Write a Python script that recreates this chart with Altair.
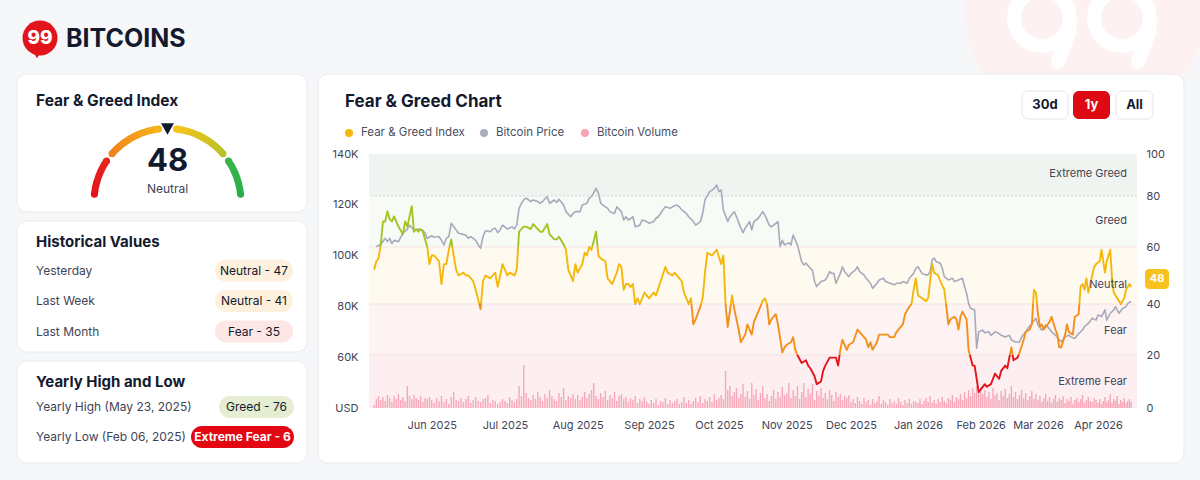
import altair as alt
import numpy as np
import pandas as pd

# ------------------------------------------------------------------ data
START = pd.Timestamp("2025-05-06")
END = pd.Timestamp("2026-04-21")

# Fear & Greed index: (days after START, value)
fear_greed = [
 (0,52),(1,55),(2,56),(3,61),(4,70),(5,70),(6,74),(7,71),(8,70),(9,72),(10,70),(11,68),(13,65),(14,70),(15,68),(16,72),(17,76),(18,66),(19,67),(20,66),(21,67),(22,66),(24,60),(25,54),(26,57),(27,57),(29,55),(30,47),(31,54),(32,54),(33,59),(34,63),(35,57),(36,52),(37,50),(39,51),(40,50),(41,50),(43,48),(44,45),(46,38),(47,48),(48,50),(50,49),(51,50),(52,51),(53,46),(55,54),(57,50),(58,51),(60,50),(61,52),(62,66),(64,68),(65,68),(67,67),(68,69),(70,67),(71,66),(72,66),(74,69),(75,65),(77,63),(78,63),(79,64),(81,61),(82,59),(83,52),(85,48),(86,54),(87,51),(89,54),(90,58),(91,57),(92,60),(93,59),(95,66),(96,57),(97,56),(99,55),(100,49),(102,47),(103,49),(104,51),(105,54),(106,53),(107,45),(108,47),(109,47),(110,46),(111,47),(112,40),(113,42),(114,40),(116,44),(117,43),(118,42),(120,44),(121,43),(123,48),(125,53),(126,51),(128,50),(129,51),(131,49),(132,48),(133,44),(135,40),(136,42),(137,32),(138,34),(140,39),(141,42),(142,51),(143,58),(145,57),(146,58),(147,59),(149,54),(150,57),(151,40),(152,31),(154,43),(155,38),(157,30),(158,25),(160,28),(161,32),(163,28),(164,33),(166,37),(168,41),(169,42),(170,40),(171,32),(172,34),(174,36),(175,32),(177,21),(178,23),(179,24),(181,25),(182,27),(183,22),(184,20),(186,17),(188,18),(189,16),(190,15),(192,12),(193,9),(195,10),(196,14),(197,16),(199,19),(201,19),(202,19),(203,16),(204,22),(205,26),(207,22),(208,24),(210,25),(212,30),(213,29),(214,28),(216,26),(217,23),(218,25),(219,22),(221,25),(222,28),(224,28),(226,28),(227,27),(229,27),(230,29),(232,31),(233,32),(234,36),(236,39),(237,40),(238,45),(239,49),(240,43),(242,42),(244,41),(245,42),(247,54),(248,51),(250,50),(251,48),(253,45),(254,39),(255,32),(256,34),(258,35),(259,34),(260,30),(261,35),(262,37),(264,34),(265,22),(266,19),(267,16),(268,16),(269,11),(270,6),(272,8),(273,9),(274,8),(276,9),(277,11),(278,13),(280,11),(281,14),(283,16),(284,15),(285,19),(286,23),(287,18),(289,19),(290,21),(292,26),(293,29),(295,30),(296,32),(297,45),(298,44),(299,36),(300,31),(301,32),(302,30),(304,32),(305,33),(306,35),(308,30),(309,28),(310,23),(311,23),(313,28),(314,32),(315,29),(317,28),(318,35),(320,36),(321,46),(322,47),(323,45),(324,49),(325,44),(327,50),(328,53),(329,54),(331,55),(332,59),(333,55),(334,51),(335,55),(336,57),(337,59),(338,49),(339,44),(341,42),(343,40),(345,42),(346,45),(348,47),(349,46),
]

# Bitcoin price in thousands USD: (days after START, price)
btc_price_k = [
 (1,103.5),(3,104.5),(5,106.8),(6,105.5),(7,106.8),(8,104.8),(9,106),(11,105.5),(12,107.2),(13,108.8),(15,110.4),(16,112),(18,110),(19,110),(20,110.5),(22,110),(23,108.8),(24,106.8),(26,107.8),(27,107.2),(29,107.5),(30,106),(31,104.2),(32,106.8),(33,107.5),(34,112.7),(35,111.4),(37,108.8),(38,108.6),(40,108),(41,106.8),(42,107.5),(44,106),(45,104.2),(46,102.9),(47,107.5),(48,109.8),(50,109.4),(51,110.5),(52,110.8),(53,109),(54,110.1),(55,112),(57,110.5),(59,111.3),(60,110.5),(61,112),(62,118.6),(63,120.6),(64,121.9),(65,122.6),(67,121.3),(68,121.9),(70,121.3),(71,120.6),(72,121.3),(74,123.2),(75,120.6),(77,121.9),(78,120.9),(79,122.2),(81,119.9),(82,117.3),(84,115.3),(85,116.6),(86,117.3),(88,117.3),(89,119.9),(91,120.6),(92,122.6),(93,123.2),(95,126.5),(96,124.6),(97,120.6),(98,119.9),(100,118.6),(101,117.3),(103,116.6),(104,119.2),(106,117.3),(107,114),(108,115.3),(109,114),(110,114.6),(111,115.3),(112,111.4),(114,112),(115,114),(117,113.4),(118,112.7),(120,113.4),(121,114.7),(122,115.3),(124,118),(125,119.2),(127,118.6),(128,119.2),(130,119.9),(131,119.2),(132,118),(134,116.6),(135,115.3),(137,113.4),(138,112),(140,113.4),(141,116.6),(142,121.9),(144,125.2),(145,125.8),(146,126.5),(147,127.8),(148,125.2),(149,125.8),(150,118),(152,113.4),(153,115.3),(155,117.3),(156,115.3),(158,110.8),(159,109),(160,110.8),(162,113.4),(163,110.1),(164,113.4),(166,114.7),(168,117.3),(169,116),(171,112),(172,111.3),(174,112.7),(175,113.4),(176,103.5),(177,106),(178,104.2),(180,105),(181,104.2),(182,108.1),(184,104.2),(186,97.6),(187,96.3),(188,97),(190,95),(191,94.3),(192,89.8),(193,87.8),(195,89.8),(197,90.4),(198,91.7),(199,93.7),(200,93),(201,93),(202,89.1),(204,93),(205,95.6),(206,93.7),(208,91.7),(209,93),(211,94.3),(212,95.6),(213,93.7),(215,92.4),(216,91.1),(218,89.1),(219,87.1),(221,89.1),(222,90.4),(224,91.1),(225,89.8),(227,89.1),(229,88.5),(230,89.1),(232,89.1),(233,89.8),(235,89.1),(236,91.1),(238,93),(239,95),(240,95.6),(242,93),(244,92.4),(245,92.4),(246,93.7),(247,98.3),(248,99),(249,97.6),(251,97),(252,95),(253,91.7),(255,90.4),(257,91.1),(258,89.8),(260,90.4),(262,91.1),(263,87.8),(264,85.2),(265,81.2),(266,79.2),(268,78.6),(269,63.5),(270,70),(272,70.6),(273,69.6),(275,70),(276,68.6),(278,70),(280,69.3),(281,68.6),(283,68),(285,68.6),(286,66.8),(288,66),(290,66),(291,68),(293,70),(294,71.3),(296,73.3),(298,75.3),(299,72.7),(301,70.6),(303,72.7),(304,72),(306,70),(308,68.7),(310,66.8),(311,66.1),(313,68),(315,68.7),(316,68),(318,67.4),(320,69.3),(322,70.7),(323,72),(325,73.3),(327,75.3),(329,74.6),(330,76.6),(332,76),(334,78.6),(335,74.6),(337,77.3),(339,78.6),(340,79.9),(342,77.3),(344,79.2),(346,79.9),(347,81.2),(349,81.9),
]

# Daily Bitcoin volume (billions USD), one value per day from START
vol_may = [3, 9, 12, 8, 11, 7, 13, 10, 6, 12, 9, 14, 8, 11, 7, 22, 12, 9, 13, 10, 8, 12, 6, 10, 9, 11]
vol_jun = [8, 5, 10, 7, 12, 6, 9, 4, 11, 16, 8, 7, 10, 6, 9, 12, 5, 8, 11, 7, 6, 9, 10, 13, 5, 8, 7, 4, 6, 9]
vol_jul = [7, 5, 11, 8, 6, 9, 22, 12, 43, 15, 10, 8, 13, 9, 16, 11, 7, 14, 10, 18, 12, 9, 7, 15, 11, 20, 8, 12, 10, 14, 9]
vol_aug = [13, 8, 11, 16, 10, 14, 18, 25, 12, 9, 15, 11, 17, 8, 13, 10, 16, 7, 12, 14, 9, 11, 6, 10, 8, 12, 5, 9, 7, 11, 6]
vol_sep = [4, 8, 5, 9, 3, 7, 6, 10, 4, 8, 5, 7, 9, 4, 6, 11, 5, 8, 4, 7, 10, 6, 12, 5, 9, 7, 11, 6, 14, 8]
vol_oct = [10, 13, 9, 37, 18, 22, 12, 16, 20, 10, 14, 24, 11, 17, 9, 25, 13, 19, 8, 15, 22, 10, 14, 7, 12, 18, 9, 16, 11, 21, 13]
vol_nov = [15, 25, 10, 18, 12, 22, 9, 16, 25, 11, 19, 14, 24, 8, 17, 12, 20, 10, 15, 9, 18, 13, 7, 16, 11, 14, 8, 12, 10, 13]
vol_dec = [6, 9, 5, 11, 7, 4, 10, 6, 8, 3, 9, 5, 7, 12, 4, 8, 6, 3, 9, 5, 7, 4, 10, 6, 3, 8, 5, 9, 4, 7, 6]
vol_jan = [5, 9, 4, 7, 10, 6, 12, 5, 8, 4, 9, 6, 11, 7, 5, 10, 8, 13, 6, 11, 9, 14, 8, 16, 10, 18, 12, 20, 15, 22, 17]
vol_feb = [21, 14, 18, 11, 16, 9, 20, 13, 15, 8, 17, 12, 19, 10, 14, 22, 11, 16, 9, 13, 18, 10, 15, 8, 12, 17, 9, 14]
vol_mar = [8, 12, 6, 10, 14, 7, 11, 5, 9, 13, 6, 10, 8, 12, 5, 9, 7, 11, 4, 8, 10, 6, 9, 13, 5, 8, 11, 7, 6, 10, 8]
vol_apr = [5, 9, 4, 7, 11, 6, 8, 14, 5, 9, 7, 12, 4, 8, 6, 10, 5, 7, 9, 6]

month_starts = ["2025-06-01", "2025-07-01", "2025-08-01", "2025-09-01", "2025-10-01", "2025-11-01",
                "2025-12-01", "2026-01-01", "2026-02-01", "2026-03-01", "2026-04-01"]

zones = ["Extreme Fear", "Fear", "Neutral", "Greed", "Extreme Greed"]
zone_lo = [0, 20, 40, 60, 80]
zone_hi = [20, 40, 60, 80, 100]

current_value = 48
current_label = "Neutral"
hist_names = ["Yesterday", "Last Week", "Last Month"]
hist_pills = ["Neutral - 47", "Neutral - 41", "Fear - 35"]
yearly_names = ["Yearly High (May 23, 2025)", "Yearly Low (Feb 06, 2025)"]
yearly_pills = ["Greed - 76", "Extreme Fear - 6"]
legend_names = ["Fear & Greed Index", "Bitcoin Price", "Bitcoin Volume"]
range_buttons = ["30d", "1y", "All"]

# ---------------------------------------------------------------- tables
fg_df = pd.DataFrame(fear_greed, columns=["day", "fg"])
px_df = pd.DataFrame(btc_price_k, columns=["day", "price"])
volume = vol_may + vol_jun + vol_jul + vol_aug + vol_sep + vol_oct + vol_nov + vol_dec + vol_jan + vol_feb + vol_mar + vol_apr
vol_df = pd.DataFrame({"day": np.arange(len(volume)), "vol": volume})
band_df = pd.DataFrame({"zone": zones, "lo": zone_lo, "hi": zone_hi})

month_ts = [pd.Timestamp(m) for m in month_starts]
month_day = [int((m - START).days) for m in month_ts]
month_lbl = [m.strftime("%b %Y") for m in month_ts]
end_day = int((END - START).days)

# ---------------------------------------------------------------- layout
CW, CH = 1200, 480
L, T, PW, PH = 369, 154, 768, 254


def X(a):
    return a - L


def Y(a):
    return a - T


ONE = pd.DataFrame({"k": [0]})
FONT = "Inter"
DARK = "#141a2e"
MUTED = "#3f4455"
CARD_STROKE = "#e9ebef"
GREEN, YELLOW, ORANGE, RED = "#a3c423", "#f5b70a", "#f3901a", "#e3141c"


def box(x1, y1, x2, y2, fill, r=0, stroke=None, sw=1.0):
    kw = dict(fill=fill, cornerRadius=r)
    if stroke:
        kw.update(stroke=stroke, strokeWidth=sw)
    else:
        kw.update(strokeWidth=0)
    return alt.Chart(ONE).mark_rect(**kw).encode(
        x=alt.value(X(x1)), x2=alt.value(X(x2)), y=alt.value(Y(y1)), y2=alt.value(Y(y2)))


def label(x, y, s, size=12, color=DARK, weight=400, align="left"):
    return alt.Chart(ONE).mark_text(
        text=s, font=FONT, fontSize=size, color=color, fontWeight=weight,
        align=align, baseline="middle").encode(x=alt.value(X(x)), y=alt.value(Y(y)))


def dot(x, y, d, color, shape="circle", angle=0):
    return alt.Chart(ONE).mark_point(
        shape=shape, filled=True, size=float(d * d), color=color, opacity=1,
        strokeWidth=0, angle=angle).encode(x=alt.value(X(x)), y=alt.value(Y(y)))


def ring(x, y, r_out, r_in, color, a0=0.0, a1=360.0):
    return alt.Chart(ONE).mark_arc(
        theta=float(np.radians(a0)), theta2=float(np.radians(a1)),
        radius=r_out, radius2=r_in, color=color, strokeWidth=0
    ).encode(x=alt.value(X(x)), y=alt.value(Y(y)))


def hex2rgb(h):
    return [int(h[i:i + 2], 16) for i in (1, 3, 5)]


def mix(c0, c1, t):
    a, b = hex2rgb(c0), hex2rgb(c1)
    return "#" + "".join(f"{int(round(a[i] + (b[i] - a[i]) * t)):02x}" for i in range(3))


layers = []

# watermark top-right (faint logo)
layers.append(dot(1085, 10, 240, "#fdf1f1"))
layers.append(ring(1042, 18, 35, 21, "#ffffff"))
layers.append(ring(1122, 18, 35, 21, "#ffffff"))
layers.append(alt.Chart(ONE).mark_rule(color="#ffffff", strokeWidth=14, strokeCap="round").encode(
    x=alt.value(X(1070)), x2=alt.value(X(1058)), y=alt.value(Y(30)), y2=alt.value(Y(62))))
layers.append(alt.Chart(ONE).mark_rule(color="#ffffff", strokeWidth=14, strokeCap="round").encode(
    x=alt.value(X(1150)), x2=alt.value(X(1138)), y=alt.value(Y(30)), y2=alt.value(Y(62))))

# logo
layers.append(dot(40, 38, 35, "#e1131b"))
layers.append(dot(37, 54, 10, "#e1131b", shape="triangle-down"))
layers.append(label(40, 38, "99", size=19, color="#ffffff", weight=800, align="center"))
layers.append(label(66, 39, "BITCOINS", size=25, color=DARK, weight=700))

# cards
layers.append(box(17, 74, 307, 212, "#ffffff", r=10, stroke=CARD_STROKE))
layers.append(box(17, 221, 307, 352, "#ffffff", r=10, stroke=CARD_STROKE))
layers.append(box(17, 361, 307, 463, "#ffffff", r=10, stroke=CARD_STROKE))
layers.append(box(318, 74, 1184, 463, "#ffffff", r=10, stroke=CARD_STROKE))

# gauge card
layers.append(label(36, 101, "Fear & Greed Index", size=15.5, weight=700))
GCX, GCY, R_OUT, R_IN = 167.5, 202.0, 77.0, 70.0
RM = (R_OUT + R_IN) / 2


def gauge_segment(a0, a1, c0, c1, n):
    out = []
    for i in range(n):
        s0 = a0 + (a1 - a0) * i / n
        s1 = a0 + (a1 - a0) * (i + 1) / n
        if i < n - 1:
            s1 += 0.6
        th0 = float(np.radians(s0 % 360))
        th1 = th0 + float(np.radians(s1 - s0))
        col = mix(c0, c1, (i + 0.5) / n)
        out.append(alt.Chart(ONE).mark_arc(
            theta=th0, theta2=th1, radius=R_OUT, radius2=R_IN, color=col, strokeWidth=0
        ).encode(x=alt.value(X(GCX)), y=alt.value(Y(GCY))))
    for a, c in ((a0, c0), (a1, c1)):
        cx = GCX + RM * np.sin(np.radians(a))
        cy = GCY - RM * np.cos(np.radians(a))
        out.append(dot(float(cx), float(cy), R_OUT - R_IN, c))
    return out


layers += gauge_segment(-84, -56, "#e3141c", "#e5261c", 3)
layers += gauge_segment(-49, -7, "#ef841c", "#f6b21a", 10)
layers += gauge_segment(7, 49, "#f6c31a", "#b9c22a", 10)
layers += gauge_segment(56, 84, "#3bb34a", "#2aae4b", 3)
layers.append(dot(GCX, 129, 13, DARK, shape="triangle-down"))
layers.append(label(GCX, 162, str(current_value), size=31, weight=700, align="center"))
layers.append(label(GCX, 189, current_label, size=12, color=MUTED, align="center"))

# historical values card
layers.append(label(36, 242, "Historical Values", size=15, weight=700))
pill_fill = ["#fdf0dc", "#fdf0dc", "#fde6e6"]
for i, (nm, pv) in enumerate(zip(hist_names, hist_pills)):
    yy = 270.5 + i * 30.5
    layers.append(label(36, yy, nm, size=12, color=MUTED))
    layers.append(box(215, yy - 11, 293, yy + 11, pill_fill[i], r=11))
    layers.append(label(254, yy, pv, size=12, color=DARK, align="center"))

# yearly high / low card
layers.append(label(36, 382, "Yearly High and Low", size=15, weight=700))
layers.append(label(36, 407, yearly_names[0], size=12, color=MUTED))
layers.append(box(219, 396, 294, 418, "#e5eed2", r=11))
layers.append(label(256.5, 407, yearly_pills[0], size=12, color=DARK, align="center"))
layers.append(label(36, 437, yearly_names[1], size=12, color=MUTED))
layers.append(box(191, 426, 294, 448, "#e30613", r=11))
layers.append(label(242.5, 437, yearly_pills[1], size=12, color="#ffffff", weight=700, align="center"))

# main chart card header
layers.append(label(345, 102, "Fear & Greed Chart", size=17, weight=700))
btn_x = [(1022, 1068), (1073, 1110), (1116, 1153)]
for (bx0, bx1), nm in zip(btn_x, range_buttons):
    active = nm == "1y"
    layers.append(box(bx0, 91, bx1, 119, "#de0a13" if active else "#ffffff", r=6,
                      stroke=None if active else "#e3e5ea"))
    layers.append(label((bx0 + bx1) / 2, 105, nm, size=13, weight=700,
                        color="#ffffff" if active else DARK, align="center"))

leg_x = [349, 484, 585]
leg_c = [YELLOW, "#a8acbd", "#f5a3b5"]
for lx, lc, ln in zip(leg_x, leg_c, legend_names):
    layers.append(dot(lx, 133, 8, lc))
    layers.append(label(lx + 12, 133, ln, size=11.5, color="#4a4f5f"))

# ---------------------------------------------------------------- scales / axes
FG_DOM = [0, 20, 40, 60, 80, 100]
FG_RNG = [254, 201, 150, 93, 42, 0]
fg_scale = alt.Scale(domain=FG_DOM, range=FG_RNG, zero=False, nice=False)

# month label positions measured on the reference's time axis (it is not evenly spaced)
x_dom = [0] + month_day + [end_day]
x_rng = [0, 62.7, 136, 208.7, 280, 350, 417.7, 482, 549, 611.7, 669, 729, 768]
x_scale = alt.Scale(domain=x_dom, range=x_rng, zero=False, nice=False)

lbl_expr = ("[" + ",".join(f"'{s}'" for s in month_lbl) + "][indexof(["
            + ",".join(str(d) for d in month_day) + "], datum.value)]")
x_axis = alt.Axis(values=month_day, labelExpr=lbl_expr, title=None,
                  grid=False, domain=False, ticks=False, tickSize=0, labelPadding=11,
                  labelFontSize=11, labelColor=MUTED, labelFont=FONT, zindex=1)
x_enc = alt.X("day:Q", scale=x_scale, axis=x_axis)

price_axis = alt.Axis(orient="left", values=[40, 60, 80, 100, 120, 140],
                      labelExpr="datum.value == 40 ? 'USD' : datum.value + 'K'",
                      title=None, grid=False, domain=False, ticks=False, tickSize=0,
                      labelPadding=11, labelFontSize=11, labelColor=MUTED, labelFont=FONT, zindex=1)
fg_axis = alt.Axis(orient="right", values=FG_DOM, title=None, grid=False, domain=False,
                   ticks=False, tickSize=0, labelPadding=9, labelFontSize=11,
                   labelColor=MUTED, labelFont=FONT, zindex=1)

# bands
band_colors = ["#fdeef1", "#fdf3f3", "#fffaf0", "#f7faf5", "#eff4f0"]
layers.append(alt.Chart(band_df).mark_rect(strokeWidth=0).encode(
    x=alt.value(0), x2=alt.value(PW),
    y=alt.Y("lo:Q", scale=fg_scale, axis=None), y2="hi:Q",
    color=alt.Color("zone:N", scale=alt.Scale(domain=zones, range=band_colors), legend=None)))
layers.append(alt.Chart(pd.DataFrame({"b": [20, 40, 60]})).mark_rule(
    color="#f6e3e3", strokeWidth=1).encode(y=alt.Y("b:Q", scale=fg_scale, axis=None)))
layers.append(alt.Chart(pd.DataFrame({"b": [80]})).mark_rule(
    color="#d3d7de", strokeWidth=1, strokeDash=[2, 2]).encode(y=alt.Y("b:Q", scale=fg_scale, axis=None)))

# volume bars
layers.append(alt.Chart(vol_df).mark_bar(width=1.4, color="#f5a0b3", opacity=0.9).encode(
    x=x_enc, y=alt.Y("vol:Q", scale=alt.Scale(domain=[0, PH], nice=False, zero=True), axis=None)))

# price line
layers.append(alt.Chart(px_df).mark_line(color="#a6aabb", strokeWidth=1.6, strokeJoin="round").encode(
    x=x_enc, y=alt.Y("price:Q", scale=alt.Scale(domain=[40, 140], nice=False, zero=False), axis=price_axis)))


# fear & greed line with zone gradient
def ypix(v):
    return float(np.interp(v, FG_DOM, FG_RNG))


top_px, bot_px = ypix(fg_df["fg"].max()), ypix(fg_df["fg"].min())


def off(v):
    return float(min(1.0, max(0.0, (ypix(v) - top_px) / (bot_px - top_px))))


stops = [(0.0, GREEN), (off(60), GREEN), (off(60), YELLOW), (off(40), YELLOW),
         (off(40), ORANGE), (off(20), ORANGE), (off(20), RED), (1.0, RED)]
grad = alt.LinearGradient(gradient="linear", x1=0, x2=0, y1=0, y2=1,
                          stops=[alt.GradientStop(offset=o, color=c) for o, c in stops])
layers.append(alt.Chart(fg_df).mark_line(stroke=grad, strokeWidth=1.9, strokeJoin="round").encode(
    x=x_enc, y=alt.Y("fg:Q", scale=fg_scale, axis=fg_axis)))

# band labels
for yy, nm in zip([174, 221, 285, 331, 382], ["Extreme Greed", "Greed", "Neutral", "Fear", "Extreme Fear"]):
    layers.append(label(1127, yy, nm, size=11, color=MUTED, align="right"))

# current value badge
layers.append(box(1145, 269, 1169, 289, "#f7c21b", r=4))
layers.append(label(1157, 279, str(current_value), size=11, color="#ffffff", weight=700, align="center"))

chart = alt.layer(*layers).resolve_scale(y="independent").properties(
    width=PW, height=PH,
    padding={"left": L, "top": T, "right": CW - L - PW, "bottom": CH - T - PH},
    autosize=alt.AutoSizeParams(type="none"),
    background="#f6f7f9",
).configure_view(stroke=None)

chart.save("out.html", embed_options={"renderer": "svg", "actions": False})
